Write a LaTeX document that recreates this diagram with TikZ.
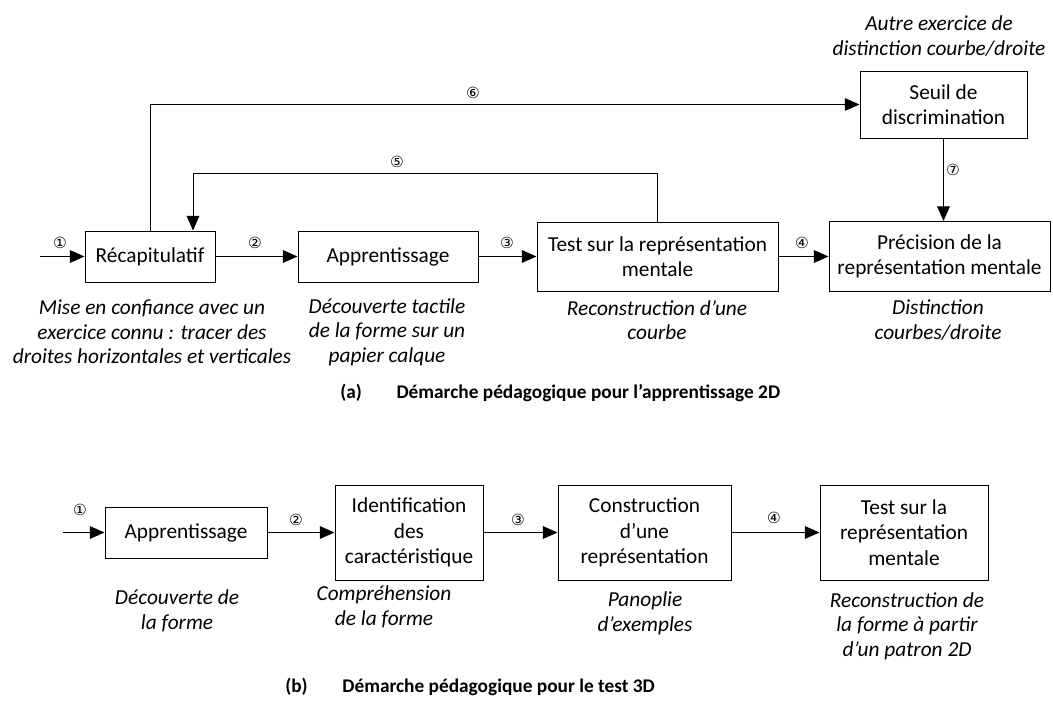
\documentclass[tikz,border=0pt]{standalone}
\usepackage{fontspec}
\setmainfont{Carlito}
\newfontfamily\circfont{DejaVu Sans}
\usetikzlibrary{arrows.meta,positioning}

\tikzset{
  etape/.style={draw, line width=0.75pt, align=center, inner sep=0pt,
    font=\fontsize{16}{19}\selectfont},
  legende/.style={align=center, font=\fontsize{16}{18.5}\selectfont\itshape},
  numero/.style={font=\circfont\fontsize{11.5}{12}\selectfont, inner sep=0pt},
  titre/.style={anchor=west, inner sep=0pt, font=\fontsize{14.5}{16}\selectfont\bfseries},
  fleche/.style={-{Triangle[length=11pt,width=9.5pt]}, line width=0.75pt},
}

\begin{document}
\begin{tikzpicture}[x=0.75pt, y=-0.75pt]
      \useasboundingbox (0,0) rectangle (1053,701);

      % (a) apprentissage 2D
      \node[etape, minimum width=97.5pt, minimum height=38.25pt] (recap) at (150,256.5) {Récapitulatif};
      \node[etape, minimum width=135pt, minimum height=38.25pt] (appr) at (388,256.5) {Apprentissage};
      \node[etape, minimum width=180.75pt, minimum height=51.75pt] (testa) at (657.5,256.5) {Test sur la représentation\\mentale};
      \node[etape, minimum width=165.75pt, minimum height=52.5pt] (precis) at (939.5,256.5) {Précision de la\\représentation mentale};
      \node[etape, minimum width=125.25pt, minimum height=50.25pt] (seuil) at (943.5,104.5) {Seuil de\\discrimination};

      \coordinate (in1) at (40,256.5);
      \coordinate (b5) at (193,173);

      \draw[fleche] (in1) -- (recap);
      \draw[fleche] (recap) -- (appr);
      \draw[fleche] (appr) -- (testa);
      \draw[fleche] (testa) -- (precis);
      \draw[fleche] (testa.north) |- (b5) -- (b5 |- recap.north);
      \draw[fleche] (recap.north) |- (seuil.west);
      \draw[fleche] (seuil.south) -- (seuil.south |- precis.north);

      \node[numero] (n1) at (60,243) {①};
      \node[numero] (n2) at (255,243) {②};
      \node[numero] (n3) at (507,243) {③};
      \node[numero] (n4) at (802,243) {④};
      \node[numero] (n5) at (397,162) {⑤};
      \node[numero] (n6) at (473,93) {⑥};
      \node[numero] (n7) at (953,170) {⑦};

      \node[legende] (lseuil) at (939,36) {Autre exercice de\\distinction courbe/droite};
      \node[legende] (lrecap) at (152,332) {Mise en confiance avec un\\exercice connu : tracer des\\droites horizontales et verticales};
      \node[legende] (lappr) at (387,332) {Découverte tactile\\de la forme sur un\\papier calque};
      \node[legende] (ltesta) at (657,320) {Reconstruction d’une\\courbe};
      \node[legende] (lprecis) at (938,320) {Distinction\\courbes/droite};

      \node[titre] (ta) at (340,393) {(a)\hspace{26pt}Démarche pédagogique pour l’apprentissage 2D};

      % (b) test 3D
      \node[etape, minimum width=121.5pt, minimum height=38.25pt] (apprb) at (186,532.5) {Apprentissage};
      \node[etape, minimum width=111pt, minimum height=71.25pt] (ident) at (409,532.5) {Identification\\des\\caractéristique};
      \node[etape, minimum width=129.75pt, minimum height=71.25pt] (constr) at (644.5,532.5) {Construction\\d’une\\représentation};
      \node[etape, minimum width=126pt, minimum height=71.25pt] (testb) at (904,532.5) {Test sur la\\représentation\\mentale};

      \coordinate (in1b) at (63,532.5);

      \draw[fleche] (in1b) -- (apprb);
      \draw[fleche] (apprb) -- (ident);
      \draw[fleche] (ident) -- (constr);
      \draw[fleche] (constr) -- (testb);

      \node[numero] (m1) at (80,510) {①};
      \node[numero] (m2) at (296,520) {②};
      \node[numero] (m3) at (518,520) {③};
      \node[numero] (m4) at (774,518) {④};

      \node[legende] (lapprb) at (177,611) {Découverte de\\la forme};
      \node[legende] (lident) at (384,607) {Compréhension\\de la forme};
      \node[legende] (lconstr) at (645,613) {Panoplie\\d’exemples};
      \node[legende] (ltestb) at (907,626) {Reconstruction de\\la forme à partir\\d’un patron 2D};

      \node[titre] (tb) at (285,687) {(b)\hspace{26pt}Démarche pédagogique pour le test 3D};
\end{tikzpicture}
\end{document}
